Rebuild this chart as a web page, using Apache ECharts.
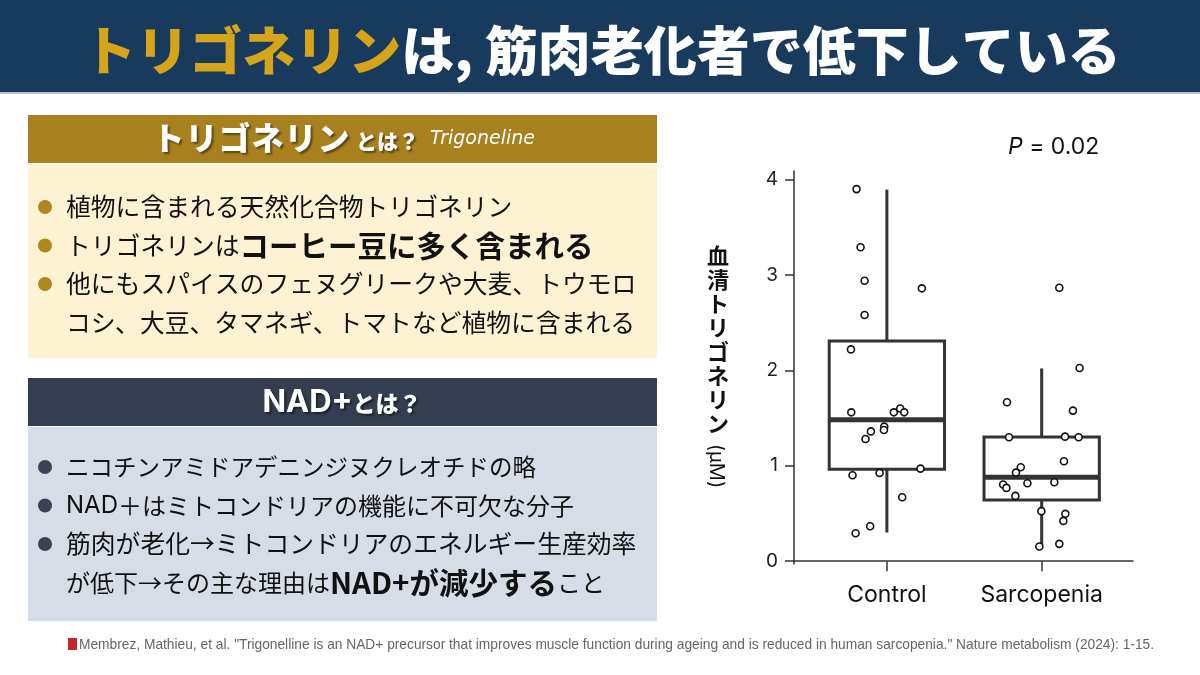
<!DOCTYPE html>
<html>
<head>
<meta charset="utf-8">
<script src="https://cdn.jsdelivr.net/npm/echarts@6/dist/echarts.min.js"></script>
<style>
html,body{margin:0;padding:0;background:#fff;}
#main{width:1200px;height:675px;}
</style>
</head>
<body>
<div id="main"></div>
<script>
// ---- data ----
const categories = ['Control', 'Sarcopenia'];
const categoryPos = [1, 2];
const yTicks = [0, 1, 2, 3, 4];
// [lower whisker, Q1, median, Q3, upper whisker]
const controlBox = [0.30, 0.963, 1.483, 2.307, 3.895];
const sarcopeniaBox = [0.154, 0.642, 0.88, 1.302, 2.02];
// jitter offsets from category centre, and values (µM)
const controlOffset = [-0.196, -0.170, -0.144, -0.144, 0.226, -0.232, -0.230, 0.045, 0.086, 0.112, -0.017, -0.019, -0.103, -0.138, 0.217, -0.222, -0.047, 0.099, -0.108, -0.202];
const controlValues = [3.90, 3.29, 2.94, 2.58, 2.86, 2.22, 1.56, 1.56, 1.60, 1.56, 1.41, 1.375, 1.36, 1.28, 0.97, 0.90, 0.925, 0.67, 0.366, 0.293];
const sarcopeniaOffset = [0.114, 0.245, -0.224, 0.202, -0.211, 0.151, 0.239, 0.144, -0.135, -0.166, -0.249, -0.228, -0.092, 0.082, -0.170, -0.002, 0.153, 0.140, 0.114, -0.015];
const sarcopeniaValues = [2.866, 2.024, 1.665, 1.578, 1.298, 1.305, 1.298, 1.047, 0.984, 0.928, 0.803, 0.768, 0.817, 0.827, 0.684, 0.524, 0.496, 0.422, 0.181, 0.154];
const pText = '0.02';

// ---- build ----
const BOX_W = 0.745;
const boxData = [
  [categoryPos[0]].concat(controlBox),
  [categoryPos[1]].concat(sarcopeniaBox)
];
const pts = [];
controlOffset.forEach((o, i) => pts.push([categoryPos[0] + o, controlValues[i]]));
sarcopeniaOffset.forEach((o, i) => pts.push([categoryPos[1] + o, sarcopeniaValues[i]]));

const chart = echarts.init(document.getElementById('main'), null, {renderer: 'canvas'});
const JP = '"Noto Sans CJK JP", "Noto Sans", sans-serif';
const LAT = 'Inter, "Noto Sans", sans-serif';
const SH = {textShadowColor: 'rgba(0,0,0,0.45)', textShadowOffsetX: 2, textShadowOffsetY: 2, textShadowBlur: 2};

function bulletLines(x, y0, dy, lines, dotColor) {
  const out = [];
  lines.forEach((ln, i) => {
    const y = y0 + i * dy;
    const fs = ln.fs || 24.8;
    if (ln.dot) {
      out.push({type: 'circle', shape: {cx: x, cy: y, r: 7}, style: {fill: dotColor}});
    }
    out.push({
      type: 'text', x: x + 21, y: y,
      style: {
        text: ln.text, verticalAlign: 'middle', align: 'left',
        font: '400 ' + fs + 'px ' + JP, fill: '#111',
        rich: {
          n: {font: '400 ' + fs + 'px ' + JP, fill: '#111', verticalAlign: 'middle'},
          b: {font: '700 29.5px ' + JP, fill: '#111', verticalAlign: 'middle'},
          l: {font: '400 ' + fs + 'px ' + LAT, fill: '#111', verticalAlign: 'middle'}
        }
      }
    });
  });
  return out;
}

// spaced header characters
function spacedChars(str, x0, step, y, font) {
  return str.split('').map((c, i) => ({
    type: 'text', x: x0 + i * step + step / 2, y: y,
    style: Object.assign({text: c, align: 'center', verticalAlign: 'middle', font: font, fill: '#fff'}, SH)
  }));
}

const graphic = [
  // title bar
  {type: 'rect', shape: {x: 0, y: 0, width: 1200, height: 92}, style: {fill: '#183a5c'}},
  {type: 'rect', shape: {x: 0, y: 92, width: 1200, height: 2}, style: {fill: '#b8c2cc'}},
  {type: 'text', x: 602, y: 51, style: {
    text: '{g|トリゴネリン}{w|は, 筋肉老化者で低下している}',
    align: 'center', verticalAlign: 'middle',
    rich: {
      g: {font: '900 53px ' + JP, fill: '#d6a419'},
      w: {font: '900 53px ' + JP, fill: '#ffffff'}
    }
  }},
  // panel 1
  {type: 'rect', shape: {x: 28, y: 115, width: 629, height: 48}, style: {fill: '#a8811e'}},
  {type: 'rect', shape: {x: 28, y: 164, width: 629, height: 194}, style: {fill: '#fdf2d2'}},
  {type: 'text', x: 356, y: 141, style: Object.assign({
    text: 'とは？', align: 'left', verticalAlign: 'middle', font: '900 21px ' + JP, fill: '#fff'
  }, SH)},
  {type: 'text', x: 430, y: 139, style: {
    text: 'Trigoneline', align: 'left', verticalAlign: 'middle', font: 'italic 300 19px "DejaVu Sans", sans-serif', fill: '#fff'
  }},
  // panel 2
  {type: 'rect', shape: {x: 28, y: 378, width: 629, height: 48}, style: {fill: '#343e50'}},
  {type: 'rect', shape: {x: 28, y: 427, width: 629, height: 194}, style: {fill: '#d7dde6'}},
  {type: 'text', x: 342, y: 403, style: {
    text: '{a|NAD+}{b|とは？}',
    align: 'center', verticalAlign: 'middle',
    rich: {
      a: Object.assign({font: '700 31px ' + LAT, fill: '#fff'}, SH),
      b: Object.assign({font: '900 23px ' + JP, fill: '#fff'}, SH)
    }
  }},
  // citation
  {type: 'rect', shape: {x: 68, y: 638, width: 9, height: 12}, style: {fill: '#c4262c'}},
  {type: 'text', x: 79, y: 645, style: {
    text: 'Membrez, Mathieu, et al. "Trigonelline is an NAD+ precursor that improves muscle function during ageing and is reduced in human sarcopenia." Nature metabolism (2024): 1-15.',
    align: 'left', verticalAlign: 'middle', font: '13.75px "Liberation Sans", Arial, sans-serif', fill: '#666'
  }},
  // y axis title
  {type: 'text', x: 718, y: 244, style: {
    text: '血\n清\nト\nリ\nゴ\nネ\nリ\nン', align: 'center', verticalAlign: 'top',
    font: '700 22px ' + JP, lineHeight: 24, fill: '#111'
  }},
  {type: 'text', x: 716, y: 466, rotation: -Math.PI / 2, style: {
    text: '(μM)', align: 'center', verticalAlign: 'middle',
    font: '400 20px ' + LAT, fill: '#111'
  }},
  // P value
  {type: 'text', x: 1008, y: 147, style: {
    text: '{i|P}{n| = ' + pText + '}', align: 'left', verticalAlign: 'middle',
    rich: {
      i: {font: 'italic 400 23px ' + LAT, fill: '#111'},
      n: {font: '400 23px ' + LAT, fill: '#111'}
    }
  }}
]
.concat(spacedChars('トリゴネリン', 152, 33, 138, '900 32px ' + JP))
.concat(bulletLines(45, 207, 38.5, [
  {dot: true, text: '{n|植物に含まれる天然化合物トリゴネリン}'},
  {dot: true, text: '{n|トリゴネリンは}{b|コーヒー豆に多く含まれる}'},
  {dot: true, text: '{n|他にもスパイスのフェヌグリークや大麦、トウモロ}'},
  {dot: false, text: '{n|コシ、大豆、タマネギ、トマトなど植物に含まれる}'}
], '#b0871f'))
.concat(bulletLines(45, 467, 38.5, [
  {dot: true, fs: 23.5, text: '{n|ニコチンアミドアデニンジヌクレオチドの略}'},
  {dot: true, fs: 24, text: '{l|NAD}{n|＋はミトコンドリアの機能に不可欠な分子}'},
  {dot: true, text: '{n|筋肉が老化→ミトコンドリアのエネルギー生産効率}'},
  {dot: false, fs: 24, text: '{n|が低下→その主な理由は}{b|NAD+が減少する}{n|こと}'}
], '#3a4254'));

const option = {
  backgroundColor: '#ffffff',
  animation: false,
  grid: {left: 794, top: 171, width: 339, height: 393, containLabel: false},
  xAxis: {
    type: 'value', min: 0.4, max: 2.59,
    splitLine: {show: false},
    axisLine: {show: true, lineStyle: {color: '#333', width: 1.5}},
    axisTick: {show: true, customValues: categoryPos, length: 10, lineStyle: {color: '#333', width: 1.5}},
    axisLabel: {
      customValues: categoryPos, margin: 20,
      formatter: v => categories[categoryPos.indexOf(Math.round(v))] || '',
      fontFamily: LAT, fontSize: 23, color: '#111'
    }
  },
  yAxis: {
    type: 'value', min: -0.03, max: 4.09,
    splitLine: {show: false},
    axisLine: {show: true, lineStyle: {color: '#333', width: 1.5}},
    axisTick: {show: true, customValues: yTicks, length: 9, lineStyle: {color: '#333', width: 1.5}},
    axisLabel: {customValues: yTicks, margin: 16, fontFamily: LAT, fontSize: 19, color: '#222'}
  },
  graphic: graphic,
  series: [
    {
      type: 'custom',
      data: boxData,
      z: 2,
      clip: false,
      renderItem: function (params, api) {
        const x = api.value(0), lo = api.value(1), q1 = api.value(2), med = api.value(3), q3 = api.value(4), hi = api.value(5);
        const h = BOX_W / 2;
        const pTL = api.coord([x - h, q3]);
        const pBR = api.coord([x + h, q1]);
        const pMedL = api.coord([x - h, med]);
        const pMedR = api.coord([x + h, med]);
        const pHi = api.coord([x, hi]);
        const pQ3 = api.coord([x, q3]);
        const pQ1 = api.coord([x, q1]);
        const pLo = api.coord([x, lo]);
        const st = {stroke: '#333', lineWidth: 3, fill: null};
        return {
          type: 'group',
          children: [
            {type: 'line', shape: {x1: pHi[0], y1: pHi[1], x2: pQ3[0], y2: pQ3[1]}, style: st},
            {type: 'line', shape: {x1: pQ1[0], y1: pQ1[1], x2: pLo[0], y2: pLo[1]}, style: st},
            {type: 'rect', shape: {x: pTL[0], y: pTL[1], width: pBR[0] - pTL[0], height: pBR[1] - pTL[1]}, style: {stroke: '#333', lineWidth: 3, fill: 'none'}},
            {type: 'line', shape: {x1: pMedL[0], y1: pMedL[1], x2: pMedR[0], y2: pMedR[1]}, style: {stroke: '#333', lineWidth: 5}}
          ]
        };
      }
    },
    {
      type: 'scatter',
      data: pts,
      z: 3,
      symbol: 'circle',
      symbolSize: 7,
      itemStyle: {color: '#fff', borderColor: '#111', borderWidth: 1.6, opacity: 1}
    }
  ]
};
chart.setOption(option);
</script>
</body>
</html>
